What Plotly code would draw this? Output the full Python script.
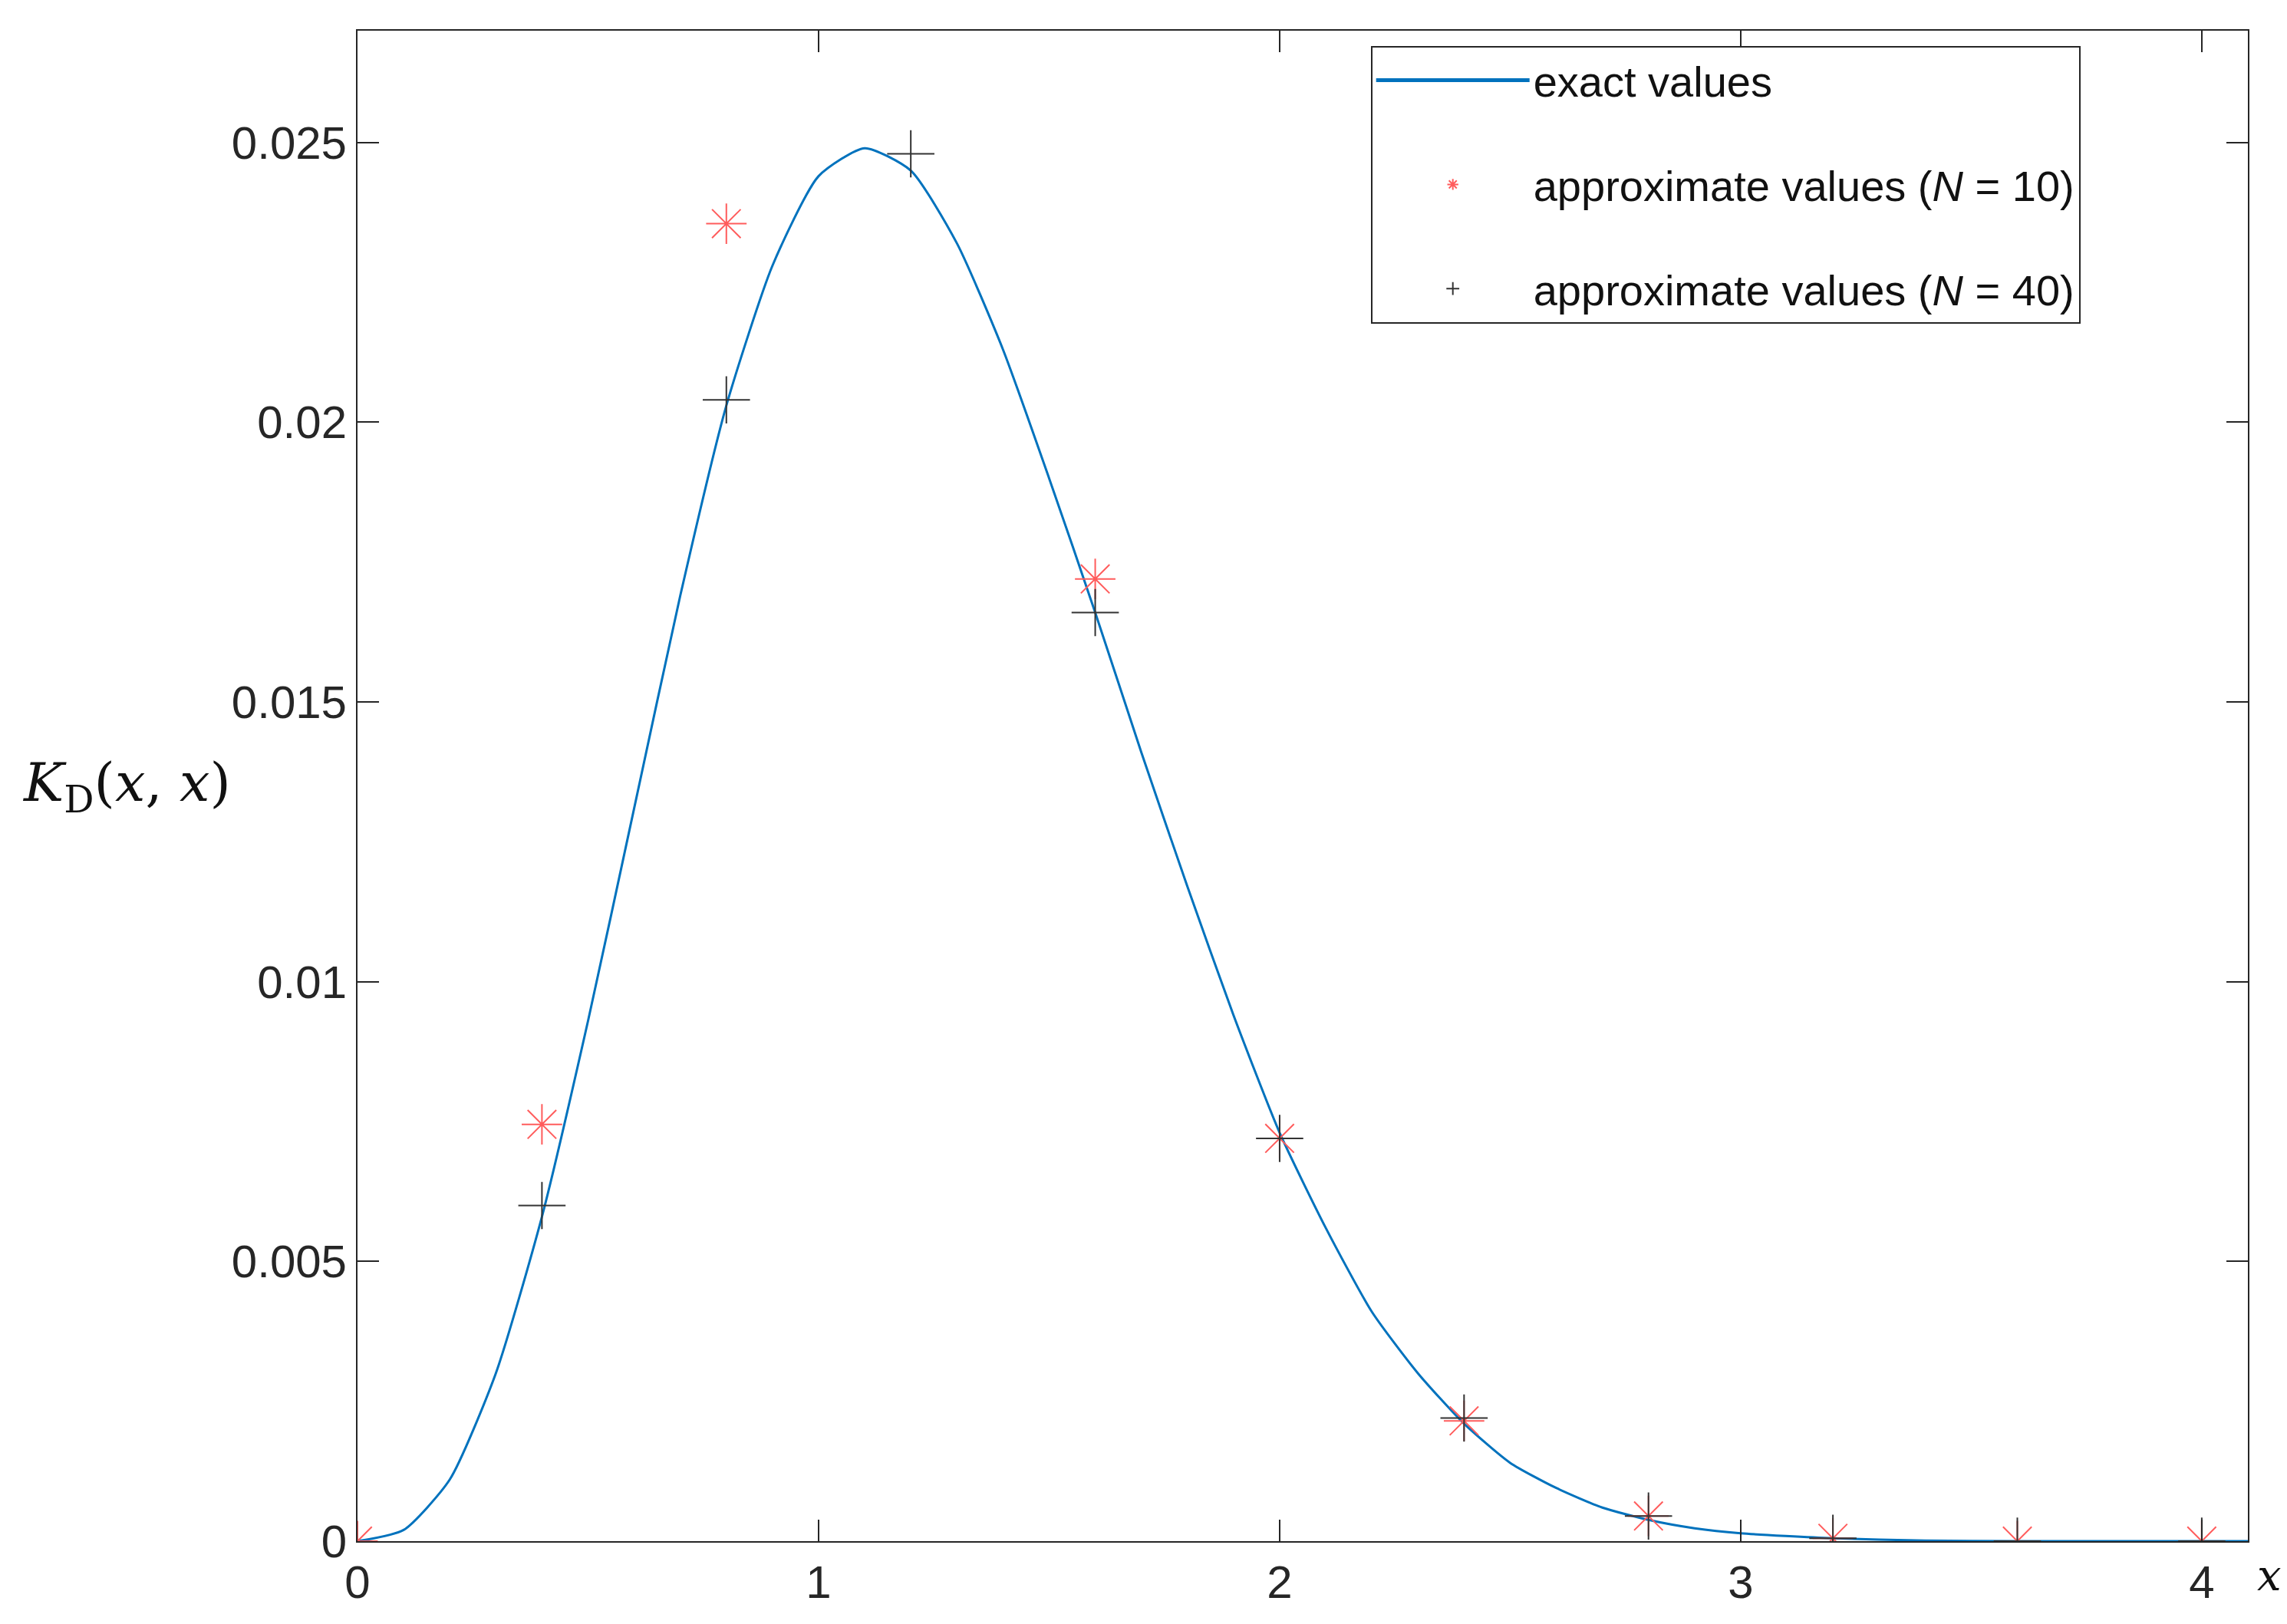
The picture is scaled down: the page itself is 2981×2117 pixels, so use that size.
import plotly.graph_objects as go

x_exact = [0,0.1,0.2,0.3,0.4,0.5,0.6,0.7,0.8,0.9,1.0,1.1,1.2,1.3,1.4,1.5,1.6,1.7,1.8,1.9,2.0,2.1,2.2,2.3,2.4,2.5,2.6,2.7,2.8,2.9,3.0,3.2,3.4,3.6,3.8,4.1]
y_exact = [0,0.0002,0.0011,0.003,0.0058,0.0093,0.0131,0.0169,0.0203,0.0228,0.0244,0.0249,0.0245,0.0232,0.0213,0.0190,0.0166,0.0141,0.0117,0.0094,0.0073,0.0056,0.0041,0.0030,0.0021,0.0014,0.00095,0.0006,0.00038,0.00023,0.00014,0.00005,0.00001,0,0,0]

x_n10 = [0,0.4,0.8,1.6,2.0,2.4,2.8,3.2,3.6,4.0]
y_n10 = [0,0.00745,0.02355,0.0172,0.0072,0.00215,0.00045,0.00005,0,0]

x_n40 = [0.4,0.8,1.2,1.6,2.0,2.4,2.8,3.2,3.6,4.0]
y_n40 = [0.006,0.0204,0.0248,0.0166,0.0072,0.0022,0.00045,0.00005,0,0]

fig = go.Figure()
fig.add_trace(go.Scatter(x=x_exact, y=y_exact, mode="lines", line=dict(color="#0072bd", width=3, shape="spline", smoothing=0.6),
                         name="exact values", legendgroup="a"))
fig.add_trace(go.Scatter(x=x_n10, y=y_n10, mode="markers", marker=dict(symbol="asterisk-open", size=44, color="#ff5c5c", line=dict(color="#ff5c5c", width=2)),
                         name="approximate values (<i>N</i> = 10)", legendgroup="b"))
fig.add_trace(go.Scatter(x=x_n40, y=y_n40, mode="markers", marker=dict(symbol="cross-thin-open", size=44, color="#333333", line=dict(color="#333333", width=2)),
                         name="approximate values (<i>N</i> = 40)", legendgroup="c"))

ax = dict(showgrid=False, zeroline=False, showline=True, linecolor="#262626", linewidth=2, mirror="ticks", ticks="inside", ticklen=28, tickwidth=2, tickcolor="#262626", tickfont=dict(family="Liberation Sans", size=60, color="#262626"))
fig.update_xaxes(range=[0,4.1], tickvals=[0,1,2,3,4], **ax)
fig.update_yaxes(range=[0,0.027], tickvals=[0,0.005,0.01,0.015,0.02,0.025], ticktext=["0","0.005","0.01","0.015","0.02","0.025"], **ax)

fig.update_layout(width=2981, height=2117, paper_bgcolor="white", plot_bgcolor="white",
    margin=dict(l=458, r=59, t=32, b=116), showlegend=True,
    legend=dict(x=0.536, y=0.99, xanchor="left", yanchor="top", bordercolor="#262626", borderwidth=2, bgcolor="white",
                font=dict(family="Liberation Sans", size=56, color="#111"), itemwidth=200, tracegroupgap=60,
                traceorder="grouped", itemsizing="constant"),
    annotations=[
        dict(text="<i>K</i><sub>D</sub>(<i>x</i>, <i>x</i>)", xref="paper", yref="paper", x=-0.178, y=0.5, xanchor="left", showarrow=False, font=dict(family="DejaVu Serif", size=70, color="#111")),
        dict(text="<i>x</i>", xref="paper", yref="paper", x=1.004, y=-0.005, xanchor="left", yanchor="top", showarrow=False, font=dict(family="DejaVu Serif", size=56, color="#111")),
    ])
fig.write_html("out.html")
